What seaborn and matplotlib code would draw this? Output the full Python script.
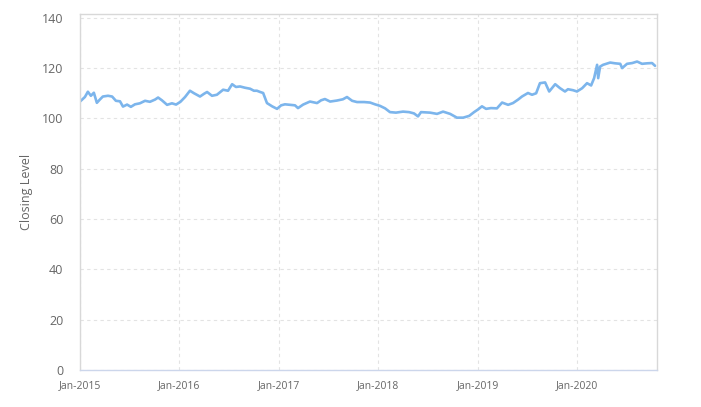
import pandas as pd
import matplotlib
matplotlib.use("Agg")
import matplotlib.pyplot as plt
import matplotlib.dates as mdates
import seaborn as sns

# Closing level series
dates = [
    "2015-01-01", "2015-01-19", "2015-01-30", "2015-02-10", "2015-02-21", "2015-03-04",
    "2015-03-15", "2015-03-26", "2015-04-14", "2015-04-29", "2015-05-13", "2015-05-28",
    "2015-06-08", "2015-06-23", "2015-07-07", "2015-07-22", "2015-08-09", "2015-08-28",
    "2015-09-15", "2015-10-04", "2015-10-15", "2015-10-29", "2015-11-17", "2015-12-05",
    "2015-12-20", "2016-01-05", "2016-01-22", "2016-02-09", "2016-02-24", "2016-03-17",
    "2016-04-01", "2016-04-12", "2016-04-30", "2016-05-18", "2016-06-10", "2016-06-28",
    "2016-07-13", "2016-07-27", "2016-08-11", "2016-08-29", "2016-09-17", "2016-10-01",
    "2016-10-12", "2016-10-24", "2016-11-04", "2016-11-18", "2016-12-07", "2016-12-25",
    "2017-01-09", "2017-01-23", "2017-02-11", "2017-03-01", "2017-03-12", "2017-03-31",
    "2017-04-25", "2017-05-21", "2017-06-05", "2017-06-19", "2017-07-08", "2017-08-02",
    "2017-08-24", "2017-09-08", "2017-09-27", "2017-10-15", "2017-11-10", "2017-12-02",
    "2017-12-20", "2018-01-07", "2018-01-26", "2018-02-13", "2018-03-07", "2018-04-02",
    "2018-04-24", "2018-05-12", "2018-05-27", "2018-06-07", "2018-07-10", "2018-08-05",
    "2018-08-27", "2018-09-22", "2018-10-17", "2018-11-09", "2018-12-01", "2018-12-19",
    "2019-01-03", "2019-01-17", "2019-02-01", "2019-02-19", "2019-03-13", "2019-04-01",
    "2019-04-23", "2019-05-11", "2019-05-30", "2019-06-13", "2019-07-05", "2019-07-20",
    "2019-08-04", "2019-08-18", "2019-09-06", "2019-09-21", "2019-10-13", "2019-10-31",
    "2019-11-18", "2019-11-29", "2019-12-18", "2020-01-01", "2020-01-20", "2020-02-07",
    "2020-02-22", "2020-03-04", "2020-03-15", "2020-03-19", "2020-03-26", "2020-04-06",
    "2020-05-02", "2020-05-20", "2020-06-08", "2020-06-15", "2020-07-03", "2020-07-22",
    "2020-08-09", "2020-08-27", "2020-09-15", "2020-10-03", "2020-10-14",
]
closing = [
    106.7, 108.5, 110.6, 109.0, 110.2, 106.2,
    107.5, 108.7, 109.0, 108.7, 107.0, 106.8,
    104.7, 105.5, 104.6, 105.6, 106.0, 107.0,
    106.6, 107.5, 108.3, 107.2, 105.4, 106.0,
    105.5, 106.6, 108.5, 111.0, 110.0, 108.7,
    109.8, 110.5, 109.0, 109.4, 111.4, 111.0,
    113.6, 112.5, 112.7, 112.2, 111.8, 111.0,
    111.0, 110.5, 110.1, 106.1, 104.8, 103.8,
    105.2, 105.6, 105.4, 105.2, 104.1, 105.5,
    106.7, 106.1, 107.2, 107.7, 106.7, 107.1,
    107.6, 108.5, 107.0, 106.5, 106.5, 106.3,
    105.6, 105.0, 104.0, 102.5, 102.3, 102.7,
    102.5, 102.0, 100.8, 102.5, 102.3, 101.8,
    102.7, 101.8, 100.3, 100.3, 101.0, 102.5,
    103.6, 104.8, 103.8, 104.1, 104.0, 106.3,
    105.4, 106.1, 107.5, 108.7, 110.1, 109.4,
    110.0, 114.0, 114.3, 110.7, 113.6, 112.0,
    110.7, 111.6, 111.2, 110.7, 112.0, 114.0,
    113.1, 116.0, 121.3, 116.0, 120.6, 121.3,
    122.2, 121.9, 121.7, 120.0, 121.7, 122.0,
    122.6, 121.7, 121.9, 122.0, 120.9,
]
tick_dates = ["2015-01-01", "2016-01-01", "2017-01-01", "2018-01-01", "2019-01-01", "2020-01-01"]
y_ticks = [0, 20, 40, 60, 80, 100, 120, 140]

df = pd.DataFrame({"date": pd.to_datetime(dates), "close": closing})

sns.set_style("white")
plt.rcParams["font.family"] = ["Open Sans", "DejaVu Sans"]

fig = plt.figure(figsize=(7.01, 4.07), dpi=100)
ax = fig.add_axes([0.1141, 0.0909, 0.8231, 0.8747])

sns.lineplot(data=df, x="date", y="close", ax=ax, color="#7cb5ec", linewidth=1.9)

ax.set_xlim(pd.Timestamp("2015-01-01"), pd.Timestamp("2020-10-21"))
ax.set_ylim(0, 141.5)
ax.set_yticks(y_ticks)
ax.set_xticks(pd.to_datetime(tick_dates))
ax.xaxis.set_major_formatter(mdates.DateFormatter("%b-%Y"))

ax.grid(True, color="#e3e3e3", linestyle=(0, (3, 3)), linewidth=0.8)
ax.set_axisbelow(True)
for side in ["top", "left", "right"]:
    ax.spines[side].set_color("#d8d8d8")
    ax.spines[side].set_linewidth(1)
ax.spines["bottom"].set_color("#ccd6eb")
ax.spines["bottom"].set_linewidth(1)

ax.tick_params(axis="y", length=0, labelsize=9, labelcolor="#666666", pad=12)
ax.tick_params(axis="x", length=4, color="#ccd6eb", labelsize=7.5, labelcolor="#666666", pad=3)
ax.set_xlabel("")
ax.set_ylabel("Closing Level", fontsize=9, color="#666666", labelpad=6)

fig.savefig("out.png", dpi=100)
